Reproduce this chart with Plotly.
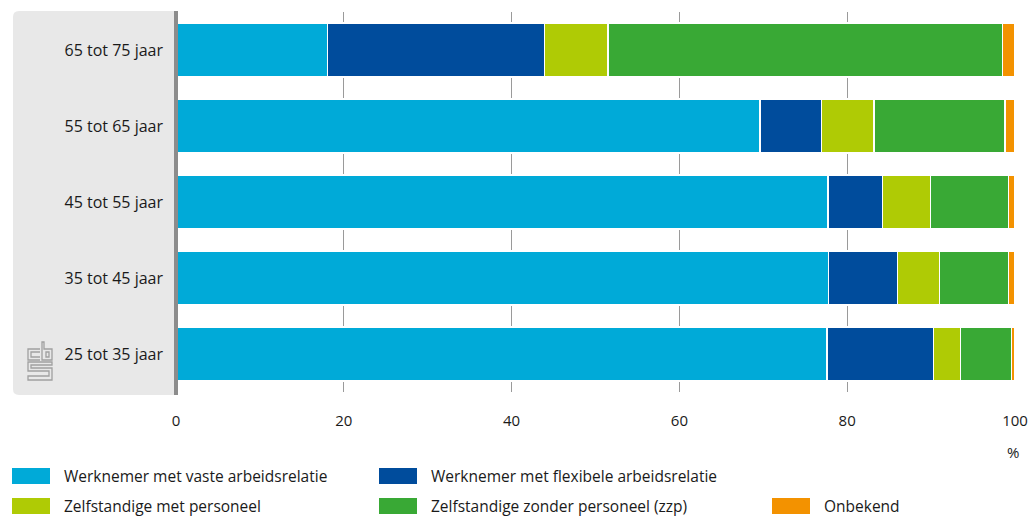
import plotly.graph_objects as go

# ---- data ----
categories = ["25 tot 35 jaar", "35 tot 45 jaar", "45 tot 55 jaar", "55 tot 65 jaar", "65 tot 75 jaar"]
series_names = [
    "Werknemer met vaste arbeidsrelatie",
    "Werknemer met flexibele arbeidsrelatie",
    "Zelfstandige met personeel",
    "Zelfstandige zonder personeel (zzp)",
    "Onbekend",
]
vaste = [77.6, 77.8, 77.7, 69.6, 18.1]
flexibel = [12.7, 8.2, 6.5, 7.3, 25.8]
zelfst_met = [3.2, 5.0, 5.7, 6.3, 7.6]
zzp = [6.1, 8.2, 9.3, 15.6, 47.0]
onbekend = [0.3, 0.7, 0.7, 1.2, 1.5]
x_ticks = [0, 20, 40, 60, 80, 100]
unit_label = "%"

series_values = [vaste, flexibel, zelfst_met, zzp, onbekend]
colors = ["#00AAD8", "#004C9C", "#AFCB05", "#39A935", "#F39200"]

W, H = 1031, 517
L, R, T, B = 176, 16, 12, 125
PW, PH = W - L - R, H - T - B
FONT = "Open Sans, Noto Sans, sans-serif"
TXT = "#1A1A1A"


def px(x):
    return (x - L) / PW


def py(y):
    return (T + PH - y) / PH


def path_px(cmds):
    out = []
    for c in cmds:
        if isinstance(c, str):
            out.append(c)
        else:
            out.append(f"{px(c[0]):.5f},{py(c[1]):.5f}")
    return " ".join(out)


fig = go.Figure()
for name, vals, col in zip(series_names, series_values, colors):
    fig.add_trace(go.Bar(
        y=categories, x=vals, name=name, orientation="h",
        marker=dict(color=col, line=dict(color="white", width=1.2)),
        showlegend=False,
    ))

shapes = []
# grey label panel with rounded left corners
r = 6
x0, x1, y0, y1 = 13, 176, 11, 395
shapes.append(dict(
    type="path", xref="paper", yref="paper", layer="below",
    path=path_px(["M", (x1, y0), "L", (x0 + r, y0), "Q", (x0, y0), (x0, y0 + r),
                  "L", (x0, y1 - r), "Q", (x0, y1), (x0 + r, y1), "L", (x1, y1), "Z"]),
    fillcolor="#E8E8E8", line=dict(width=0),
))
# vertical axis line at 0
shapes.append(dict(type="line", xref="paper", yref="paper",
                   x0=px(176), x1=px(176), y0=py(11), y1=py(395),
                   line=dict(color="#8C8C8C", width=4)))
# CBS logo (simplified)
logo_col = "#A0A0A0"
logo_paths = [
    ["M", (40, 349), "L", (28, 349), "L", (28, 360), "L", (40, 360)],
    ["M", (40, 352), "L", (31, 352), "L", (31, 357), "L", (40, 357)],
    ["M", (42, 342), "L", (42, 360), "L", (52, 360), "L", (52, 349), "L", (44, 349), "L", (44, 342), "Z"],
    ["M", (46, 352), "L", (49, 352), "L", (49, 357), "L", (46, 357), "Z"],
    ["M", (52, 362), "L", (28, 362), "L", (28, 371), "L", (49, 371), "L", (49, 376), "L", (28, 376),
     "L", (28, 380), "L", (52, 380), "L", (52, 368), "L", (31, 368), "L", (31, 365), "L", (52, 365), "Z"],
]
for p in logo_paths:
    shapes.append(dict(type="path", xref="paper", yref="paper", path=path_px(p),
                       line=dict(color=logo_col, width=1.3)))

# manual legend
legend_cols = [12, 379, 772]
legend_pos = [(0, 0), (1, 0), (0, 1), (1, 1), (2, 1)]
row_y = [476, 506]
annotations = []
for (ci, ri), name, col in zip(legend_pos, series_names, colors):
    lx = legend_cols[ci]
    cy = row_y[ri]
    shapes.append(dict(type="rect", xref="paper", yref="paper",
                       x0=px(lx), x1=px(lx + 38), y0=py(cy - 8), y1=py(cy + 8),
                       fillcolor=col, line=dict(width=0)))
    annotations.append(dict(xref="paper", yref="paper", x=px(lx + 50), y=py(cy),
                            text=name, showarrow=False, xanchor="left", yanchor="middle",
                            font=dict(family=FONT, size=15.5, color=TXT)))

annotations.append(dict(xref="paper", yref="paper", x=px(1013), y=py(452), text=unit_label,
                        showarrow=False, xanchor="center", yanchor="middle",
                        font=dict(family=FONT, size=15, color=TXT)))

fig.update_layout(
    template="none",
    width=W, height=H, autosize=False,
    margin=dict(l=L, r=R, t=T, b=B, pad=0),
    barmode="stack", bargap=0.29,
    plot_bgcolor="white", paper_bgcolor="white",
    font=dict(family=FONT, size=15, color=TXT),
    shapes=shapes, annotations=annotations,
    showlegend=False,
    xaxis=dict(range=[0, 100], tickvals=x_ticks, showgrid=True, gridcolor="#9A9A9A", gridwidth=1,
               zeroline=False, showline=False, ticks="", ticklabelstandoff=18, automargin=False,
               tickfont=dict(family=FONT, size=15, color=TXT), fixedrange=True),
    yaxis=dict(categoryorder="array", categoryarray=categories, showgrid=False, zeroline=False,
               showline=False, ticks="", ticklabelstandoff=12, automargin=False,
               tickfont=dict(family=FONT, size=16, color=TXT), fixedrange=True),
)

fig.write_html("out.html", config={"displayModeBar": False},
               post_script="document.body.style.margin='0';document.body.style.overflow='hidden';")
